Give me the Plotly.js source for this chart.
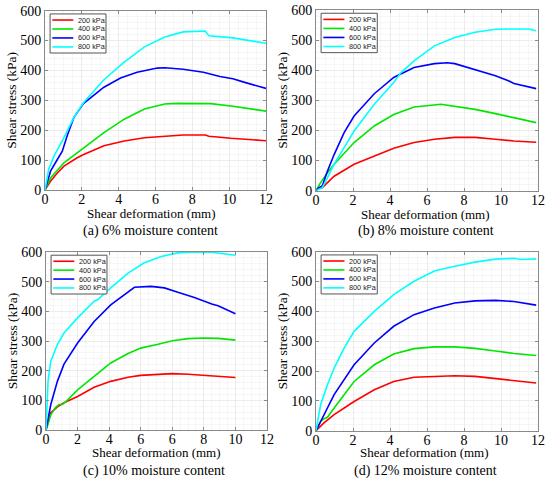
<!DOCTYPE html>
<html>
<head>
<meta charset="utf-8">
<script src="https://cdn.plot.ly/plotly-3.0.1.min.js"></script>
<style>html,body{margin:0;padding:0;background:#fff;}#chart{width:550px;height:483px;}</style>
</head>
<body>
<div id="chart"></div>
<script>
// ---------- DATA ----------
const pressures = ['200 kPa', '400 kPa', '600 kPa', '800 kPa'];
const subtitles = ['(a) 6% moisture content', '(b) 8% moisture content', '(c) 10% moisture content', '(d) 12% moisture content'];
const xTitle = 'Shear deformation (mm)';
const yTitle = 'Shear stress (kPa)';
const xTickVals = [0, 2, 4, 6, 8, 10, 12];
const xTickText = ['0', '2', '4', '6', '8', '10', '12'];
const cTickVals = [0, 2, 4, 6, 8, 10, 12, 14];
const cTickText = ['0', '2', '4', '6', '6', '8', '10', '12'];
const yTickVals = [0, 100, 200, 300, 400, 500, 600];

// (a) 6% moisture
const a200x = [0, 0.3, 0.67, 1.03, 1.75, 2.1, 3.2, 4.3, 5.4, 6.5, 7.5, 8.7, 8.9, 10.1, 12];
const a200y = [0, 29, 57, 80, 108, 119, 148, 164, 175, 181, 184, 184, 180, 173, 165];
const a400x = [0, 0.3, 1.03, 2.1, 3.2, 4.3, 5.4, 6.5, 7.2, 9.0, 10.1, 12];
const a400y = [0, 40, 91, 142, 192, 237, 271, 288, 290, 289, 281, 264];
const a600x = [0, 0.3, 0.67, 0.94, 1.2, 1.57, 2.1, 3.2, 4.1, 5.0, 6.1, 6.5, 7.5, 8.6, 9.5, 10.2, 10.8, 12];
const a600y = [0, 63, 102, 130, 181, 243, 290, 344, 375, 394, 408, 409, 404, 394, 380, 372, 361, 340];
const a800x = [0, 0.2, 0.5, 1.03, 1.57, 2.1, 3.2, 4.3, 5.4, 6.5, 7.5, 8.6, 8.7, 8.9, 10.1, 12];
const a800y = [0, 70, 115, 175, 243, 293, 369, 428, 479, 512, 529, 532, 532, 516, 510, 491];

// (b) 8% moisture
const b200x = [0, 0.16, 0.34, 0.62, 0.98, 2.06, 3.15, 4.2, 5.3, 6.4, 7.5, 8.6, 9.7, 10.7, 11.9];
const b200y = [0, 10, 10, 27, 48, 88, 115, 141, 160, 171, 177, 177, 171, 165, 161];
const b400x = [0, 0.25, 0.62, 0.98, 2.06, 3.15, 4.2, 5.3, 6.75, 7.5, 8.6, 9.7, 10.7, 11.9];
const b400y = [0, 27, 60, 88, 160, 215, 253, 278, 287, 281, 270, 256, 243, 226];
const b600x = [0, 0.16, 0.34, 0.62, 0.98, 1.52, 2.06, 3.15, 4.2, 5.3, 6.4, 7.1, 7.5, 8.6, 9.7, 10.4, 10.7, 11.9];
const b600y = [0, 10, 16, 65, 120, 193, 248, 322, 376, 409, 422, 425, 422, 403, 382, 365, 356, 339];
const b800x = [0, 0.34, 0.62, 0.98, 1.52, 2.06, 3.15, 4.2, 4.6, 5.3, 6.4, 7.5, 8.6, 9.7, 10.7, 11.5, 11.9];
const b800y = [0, 10, 43, 88, 143, 198, 287, 359, 392, 431, 481, 509, 526, 536, 537, 537, 531];

// (c) 10% moisture (x in tick-position units of the printed axis)
const c200x = [0, 0.3, 0.72, 1.14, 2.0, 3.05, 4.1, 5.2, 6.0, 7.1, 8.0, 9.0, 10.0, 12.0];
const c200y = [0, 58, 78, 92, 113, 144, 164, 178, 184, 188, 190, 188, 185, 177];
const c400x = [0, 0.3, 0.6, 0.83, 1.04, 1.25, 2.0, 3.05, 4.1, 5.2, 6.0, 7.1, 8.0, 9.0, 10.0, 10.9, 12.0];
const c400y = [0, 50, 76, 86, 86, 95, 135, 181, 226, 258, 276, 289, 301, 308, 310, 309, 303];
const c600x = [0, 0.3, 0.72, 1.14, 2.0, 3.05, 4.1, 5.2, 5.6, 6.65, 7.5, 8.35, 9.4, 10.5, 10.9, 12.0];
const c600y = [0, 85, 164, 222, 293, 366, 422, 467, 481, 484, 479, 464, 447, 425, 419, 392];
const c800x = [0, 0.13, 0.3, 0.72, 1.14, 2.0, 3.05, 3.26, 4.1, 5.2, 6.2, 7.3, 8.35, 9.4, 10.5, 11.3, 12.0];
const c800y = [0, 164, 231, 288, 327, 378, 434, 439, 479, 529, 563, 585, 597, 600, 599, 593, 589];

// (d) 12% moisture
const d200x = [0, 0.43, 0.98, 2.06, 3.15, 4.2, 5.3, 6.4, 7.5, 8.6, 9.7, 10.7, 11.9];
const d200y = [0, 26, 54, 98, 137, 165, 179, 182, 184, 182, 174, 168, 160];
const d400x = [0, 0.25, 0.43, 0.62, 0.98, 2.06, 3.15, 4.2, 5.3, 6.4, 7.5, 8.6, 9.7, 10.7, 11.9];
const d400y = [0, 31, 40, 45, 76, 165, 221, 257, 275, 281, 281, 276, 267, 259, 252];
const d600x = [0, 0.43, 0.98, 2.06, 3.15, 4.2, 5.3, 6.4, 7.5, 8.6, 9.7, 10.7, 11.9];
const d600y = [0, 54, 121, 221, 294, 350, 389, 411, 428, 435, 437, 433, 421];
const d800x = [0, 0.25, 0.62, 0.98, 1.52, 2.06, 3.15, 4.2, 5.3, 6.4, 7.5, 8.6, 9.7, 10.7, 11.1, 11.9];
const d800y = [0, 87, 154, 210, 277, 333, 400, 456, 501, 535, 551, 565, 575, 578, 574, 576];

// ---------- STYLE / LAYOUT ----------
const colors = ['#ff0000', '#00e600', '#0000ff', '#00ffff'];
const SERIF = 'Liberation Serif, Times New Roman, serif';
const SANS = 'Liberation Sans, Arial, sans-serif';

const panelData = [
  [[a200x, a200y], [a400x, a400y], [a600x, a600y], [a800x, a800y]],
  [[b200x, b200y], [b400x, b400y], [b600x, b600y], [b800x, b800y]],
  [[c200x, c200y], [c400x, c400y], [c600x, c600y], [c800x, c800y]],
  [[d200x, d200y], [d400x, d400y], [d600x, d600y], [d800x, d800y]]
];

const W = 550, H = 483;
// plot boxes in pixels: [left, right, top, bottom]
const boxes = [
  [45, 266, 10.7, 190],
  [316, 538, 10, 190.7],
  [46, 267, 252, 430],
  [316, 538, 251.7, 430.7]
];
const subPos = [[150.5, 231], [425.5, 230.5], [154, 471], [425, 470.5]];
const xTitlePos = [[151.5, 213.5], [425, 214], [156, 452.5], [424.5, 452.5]];

const traces = [];
const layout = {
  width: W, height: H,
  margin: {l: 0, r: 0, t: 0, b: 0},
  paper_bgcolor: '#ffffff', plot_bgcolor: '#ffffff',
  showlegend: false,
  shapes: [], annotations: []
};

boxes.forEach((b, i) => {
  const sfx = i === 0 ? '' : String(i + 1);
  const xa = 'x' + sfx, ya = 'y' + sfx;
  const isC = i === 2;
  const common = {
    showline: true, linecolor: '#8a8a8a', linewidth: 1, mirror: 'ticks',
    ticks: 'inside', ticklen: 3, tickcolor: '#8a8a8a',
    showgrid: true, gridcolor: '#e6e6e6', gridwidth: 0.6,
    zeroline: false, fixedrange: true,
    tickfont: {family: SERIF, size: 14, color: '#000'}
  };
  layout['xaxis' + sfx] = Object.assign({}, common, {
    domain: [b[0] / W, b[1] / W], anchor: ya,
    range: isC ? [0, 14] : [0, 12],
    tickmode: 'array',
    tickvals: isC ? cTickVals : xTickVals,
    ticktext: isC ? cTickText : xTickText,
    ticklabelstandoff: -4,
    minor: {tickmode: 'linear', tick0: 0, dtick: 0.5, showgrid: true, gridcolor: '#f0f0f0', gridwidth: 0.6, ticks: ''}
  });
  layout['yaxis' + sfx] = Object.assign({}, common, {
    domain: [1 - b[3] / H, 1 - b[2] / H], anchor: xa,
    range: [0, 600],
    tickmode: 'array', tickvals: yTickVals,
    minor: {tickmode: 'linear', tick0: 0, dtick: 20, showgrid: true, gridcolor: '#f0f0f0', gridwidth: 0.6, ticks: ''},
    title: {text: yTitle, font: {family: SERIF, size: 13.5, color: '#000'}, standoff: 0}
  });

  panelData[i].forEach((s, k) => {
    traces.push({
      x: s[0], y: s[1], xaxis: xa, yaxis: ya,
      type: 'scatter', mode: 'lines', name: pressures[k],
      line: {color: colors[k], width: 1.6},
      hoverinfo: 'skip'
    });
  });

  // legend box (drawn manually to match the compact original)
  layout.shapes.push({
    type: 'rect', xref: xa + ' domain', yref: ya + ' domain',
    x0: 0.023, x1: 0.276, y0: 0.764, y1: 0.982,
    line: {color: '#555', width: 1}, fillcolor: '#ffffff', layer: 'above'
  });
  pressures.forEach((p, k) => {
    const yy = 0.948 - k * 0.05;
    layout.shapes.push({
      type: 'line', xref: xa + ' domain', yref: ya + ' domain',
      x0: 0.033, x1: 0.128, y0: yy, y1: yy,
      line: {color: colors[k], width: 1.6}, layer: 'above'
    });
    layout.annotations.push({
      text: p, xref: xa + ' domain', yref: ya + ' domain',
      x: 0.139, y: yy, xanchor: 'left', yanchor: 'middle', showarrow: false,
      font: {family: SANS, size: 7.3, color: '#222'}
    });
  });

  // x-axis title
  layout.annotations.push({
    text: xTitle, xref: 'paper', yref: 'paper',
    x: xTitlePos[i][0] / W, y: 1 - xTitlePos[i][1] / H,
    xanchor: 'center', yanchor: 'middle', showarrow: false,
    font: {family: SERIF, size: 13, color: '#000'}
  });
  // panel caption
  layout.annotations.push({
    text: subtitles[i], xref: 'paper', yref: 'paper',
    x: subPos[i][0] / W, y: 1 - subPos[i][1] / H,
    xanchor: 'center', yanchor: 'middle', showarrow: false,
    font: {family: SERIF, size: 14, color: '#000'}
  });
});

Plotly.newPlot('chart', traces, layout, {staticPlot: true, displayModeBar: false});
</script>
</body>
</html>
